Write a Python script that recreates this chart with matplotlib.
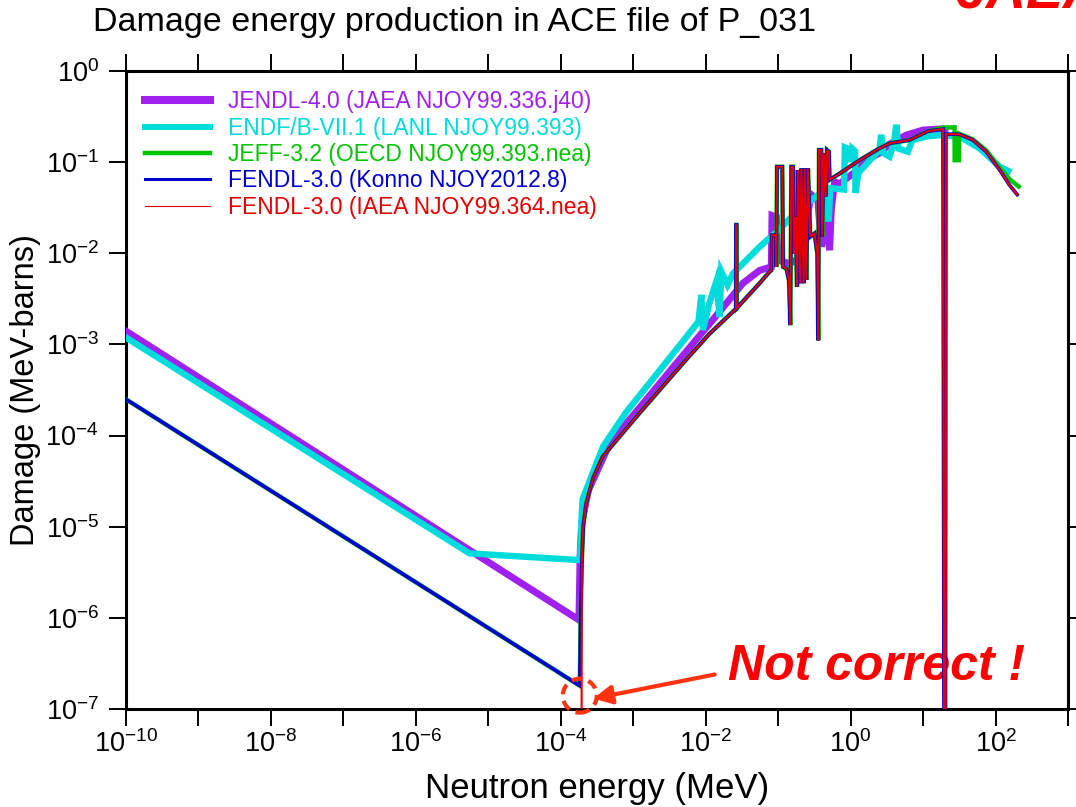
import numpy as np
import matplotlib
matplotlib.use("Agg")
import matplotlib.pyplot as plt
from matplotlib.lines import Line2D
from matplotlib.patches import Circle
from matplotlib.transforms import ScaledTranslation
from matplotlib.ticker import FixedLocator, FuncFormatter, NullLocator

plt.rcParams['font.family'] = ['Liberation Sans', 'DejaVu Sans']
plt.rcParams['mathtext.fontset'] = 'custom'
plt.rcParams['mathtext.rm'] = 'Liberation Sans'
plt.rcParams['mathtext.it'] = 'Liberation Sans:italic'
plt.rcParams['mathtext.bf'] = 'Liberation Sans:bold'

# ---- damage energy data (MeV, MeV-barns) ----
# 1/v region below threshold
jendl_low_e = [1e-10, 1.78e-4]
jendl_low_d = [1.4e-3, 9.5e-7]
endf_low_e = [1e-10, 5.5e-6, 1.85e-4]
endf_low_d = [1.19e-3, 5.1e-6, 4.3e-6]
fendl_low_e = [1e-10, 1.83e-4, 1.88e-4]
fendl_low_d = [2.5e-4, 1.8e-7, 1.0e-6]

# common curve above threshold (JEFF / FENDL)
rise_e = [1.95e-4, 2.04e-4, 2.24e-4, 2.82e-4, 3.80e-4, 5.89e-4, 1.10e-3, 2.34e-3,
          5.37e-3, 1.12e-2, 2.60e-2, 2.62e-2, 2.64e-2, 2.66e-2, 2.68e-2, 5.56e-2, 7.64e-2]
rise_d = [4.0e-6, 1.0e-5, 1.8e-5, 3.5e-5, 5.9e-5, 8.9e-5, 1.6e-4, 3.2e-4,
          6.8e-4, 1.3e-3, 2.45e-3, 2.45e-3, 2.05e-2, 2.05e-2, 2.5e-3, 4.7e-3, 6.3e-3]
res_e = [8.05e-2, 8.13e-2, 9.23e-2, 9.44e-2, 9.64e-2, 0.114, 0.117, 0.130, 0.141, 0.147,
         0.152, 0.160, 0.165, 0.174, 0.182, 0.187, 0.202, 0.209, 0.225, 0.232, 0.245,
         0.258, 0.278, 0.318, 0.347, 0.358, 0.366, 0.394, 0.406, 0.425, 0.452, 0.471,
         0.502, 0.513]
res_d = [6.5e-3, 1.58e-2, 1.58e-2, 7.1e-3, 8.9e-2, 8.9e-2, 7.1e-3, 6.8e-3, 5.0e-3, 1.63e-3,
         8.9e-2, 8.9e-2, 9.9e-3, 2.5e-2, 4.3e-3, 8.2e-2, 4.7e-3, 8.5e-2, 4.7e-3, 8.5e-2, 5.1e-3,
         8.5e-2, 1.52e-2, 1.65e-2, 9.9e-3, 1.11e-3, 0.136, 0.136, 1.52e-2, 0.125, 4.2e-2, 0.136,
         0.130, 6.4e-2]
fast_e = [0.705, 1.33, 2.51, 3.45, 6.52, 8.95, 11.7, 18.8]
fast_d = [7.5e-2, 0.105, 0.142, 0.161, 0.175, 0.198, 0.219, 0.231]

# FENDL-3.0 goes to zero at 20 MeV
drop_e = [19.7, 20.3]
drop_d = [1e-10, 1e-10]
tail_e = [20.7, 31.8, 48.6, 74.3, 114, 156, 199]
tail_d = [0.203, 0.202, 0.175, 0.130, 8.2e-2, 5.6e-2, 4.4e-2]

# JEFF-3.2 above 10 MeV
jeff_hi_e = [18.8, 27.2, 27.3, 31.2, 31.5, 48.6, 74.3, 114, 156, 209]
jeff_hi_d = [0.240, 0.241, 0.105, 0.105, 0.205, 0.178, 0.135, 8.7e-2, 6.5e-2, 5.4e-2]

# JENDL-4.0 above threshold
jendl_hi_e = [1.85e-4, 1.95e-4, 2.4e-4, 4.74e-4, 1.37e-3, 3.94e-3, 1.14e-2, 3.27e-2,
              5.56e-2, 8.05e-2, 8.22e-2, 9.44e-2, 9.95e-2, 0.144, 0.20, 0.286, 0.354,
              0.394, 0.461, 0.513, 0.541, 0.601, 0.705, 1.33, 1.64, 2.51, 3.45, 5.86,
              9.95, 16.9, 20.0]
jendl_hi_d = [5e-6, 1.1e-5, 2.5e-5, 8.2e-5, 2.25e-4, 6.2e-4, 1.7e-3, 4.7e-3,
              6.5e-3, 7.1e-3, 2.6e-2, 2.5e-2, 8.4e-3, 7.7e-3, 8.9e-3, 4.4e-2, 3.8e-2,
              1.18e-2, 2.3e-2, 1.08e-2, 3.0e-2, 6.1e-2, 5.8e-2, 8.5e-2, 0.105, 0.126,
              0.158, 0.198, 0.225, 0.231, 0.229]

# ENDF/B-VII.1 above threshold
endf_hi_e = [1.91e-4, 2.0e-4, 2.51e-4, 3.84e-4, 8.05e-4, 2.32e-3, 5.42e-3, 7.94e-3,
             8.71e-3, 9.16e-3, 1.12e-2, 1.40e-2, 1.56e-2, 1.64e-2, 2.0e-2, 2.38e-2,
             2.94e-2, 3.64e-2, 5.56e-2, 0.1, 0.145, 0.251, 0.437, 0.468, 0.50, 0.525,
             0.813, 0.832, 0.955, 1.0, 1.05, 1.15, 1.17, 1.26, 1.33, 2.51, 2.63, 2.82,
             3.45, 3.98, 4.27, 4.57, 6.17, 7.08, 11.0, 16.9, 31.8, 60.1, 114, 150]
endf_hi_d = [1.0e-5, 2.0e-5, 3.2e-5, 7.6e-5, 1.82e-4, 5.2e-4, 1.21e-3, 1.78e-3,
             3.5e-3, 1.44e-3, 2.8e-3, 4.9e-3, 2.0e-3, 6.3e-3, 4.5e-3, 6.0e-3,
             7.1e-3, 8.4e-3, 1.18e-2, 1.78e-2, 2.4e-2, 3.5e-2, 5.0e-2, 2.4e-2, 2.4e-2, 5.2e-2,
             5.0e-2, 0.145, 0.138, 0.10, 0.141, 0.132, 4.6e-2, 7.1e-2, 7.9e-2, 0.136, 0.20, 0.126,
             0.115, 0.166, 0.257, 0.141, 0.130, 0.174, 0.191, 0.198, 0.191, 0.142, 8.9e-2, 8.0e-2]

# IAEA FENDL starts at zero right at threshold
iaea_start_e = [1.92e-4]
iaea_start_d = [1e-10]

labels = ["JENDL-4.0 (JAEA NJOY99.336.j40)",
          "ENDF/B-VII.1 (LANL NJOY99.393)",
          "JEFF-3.2 (OECD NJOY99.393.nea)",
          "FENDL-3.0 (Konno NJOY2012.8)",
          "FENDL-3.0 (IAEA NJOY99.364.nea)"]
colors = ["#a020f0", "#00dcdc", "#00c400", "#0000d0", "#e40000"]


def build_series():
    jendl = (jendl_low_e + jendl_hi_e, jendl_low_d + jendl_hi_d)
    endf = (endf_low_e + endf_hi_e, endf_low_d + endf_hi_d)
    jeff = (fendl_low_e + rise_e + res_e + fast_e[:-1] + jeff_hi_e,
            fendl_low_d + rise_d + res_d + fast_d[:-1] + jeff_hi_d)
    konno = (fendl_low_e + rise_e + res_e + fast_e + drop_e + tail_e,
             fendl_low_d + rise_d + res_d + fast_d + drop_d + tail_d)
    iaea = (iaea_start_e + rise_e + res_e + fast_e + drop_e + tail_e,
            iaea_start_d + rise_d + res_d + fast_d + drop_d + tail_d)
    return [jendl, endf, jeff, konno, iaea]


def exp_label(v, pos, step=1):
    n = int(round(np.log10(v)))
    if n % step:
        return ""
    return r"$\mathregular{10^{%d}}$" % n


fig = plt.figure(figsize=(10.76, 8.07), dpi=100)
ax = fig.add_axes([126 / 1076, 1 - 709 / 807, 942 / 1076, 638 / 807])

plot_widths = [5.0, 4.6, 3.2, 2.6, 1.5]
legend_widths = [5.8, 4.3, 3.2, 2.2, 0.8]

for (e, d), c, w in zip(build_series(), colors, plot_widths):
    ax.plot(e, d, color=c, lw=w, solid_joinstyle='miter', zorder=3)

ax.set_xscale('log')
ax.set_yscale('log')
ax.set_xlim(1e-10, 1e3)
ax.set_ylim(1e-7, 1e0)

ax.xaxis.set_major_locator(FixedLocator(10.0 ** np.arange(-10, 4)))
ax.yaxis.set_major_locator(FixedLocator(10.0 ** np.arange(-7, 1)))
ax.xaxis.set_minor_locator(NullLocator())
ax.yaxis.set_minor_locator(NullLocator())
ax.xaxis.set_major_formatter(FuncFormatter(lambda v, p: exp_label(v, p, 2)))
ax.yaxis.set_major_formatter(FuncFormatter(lambda v, p: exp_label(v, p, 1)))
ax.tick_params(which='major', direction='out', length=12.5, width=1.4,
               top=True, right=True, labelsize=19.5)
ax.tick_params(axis='x', pad=3)
ax.tick_params(axis='y', pad=7)

for s in ax.spines.values():
    s.set_linewidth(2.2)

ax.set_xlabel("Neutron energy (MeV)", fontsize=25, labelpad=10)
ax.set_ylabel("Damage (MeV-barns)", fontsize=23.5, labelpad=3)
fig.text(93 / 1076, 0.962, "Damage energy production in ACE file of P_031",
         fontsize=24.5, ha='left', va='baseline')
fig.text(955 / 1076, 1 - 7 / 807, "JAEA", fontsize=40, color='#ff0000',
         fontweight='bold', fontstyle='italic', ha='left', va='baseline')

handles = [Line2D([], [], color=c, lw=w) for c, w in zip(colors, legend_widths)]
ax.legend(handles, labels, loc='upper left', bbox_to_anchor=(0.02, 0.970),
          frameon=False, fontsize=16.5, handlelength=2.85, handletextpad=0.8,
          labelspacing=0.15, borderpad=0, borderaxespad=0, labelcolor='linecolor')

# remark on the IAEA file at threshold
ax.text(0.639, 0.0455, "Not correct !", transform=ax.transAxes, fontsize=36,
        color='#ff0000', fontweight='bold', fontstyle='italic', ha='left',
        va='baseline', zorder=2)
ax.annotate("", xy=(2.79e-4, 1.3e-7), xytext=(1.33e-2, 2.39e-7),
            arrowprops=dict(arrowstyle='-|>', color='#ff3311', lw=3,
                            mutation_scale=28, shrinkA=0, shrinkB=0),
            annotation_clip=False, zorder=5)
ring = Circle((0, 0), 0.17, fill=False, ec='#ff3311', lw=3, ls=(0, (2.5, 1.6)),
              transform=fig.dpi_scale_trans + ScaledTranslation(1.83e-4, 1.4e-7, ax.transData),
              clip_on=False, zorder=5)
ax.add_patch(ring)

fig.savefig("out.png", dpi=100)
